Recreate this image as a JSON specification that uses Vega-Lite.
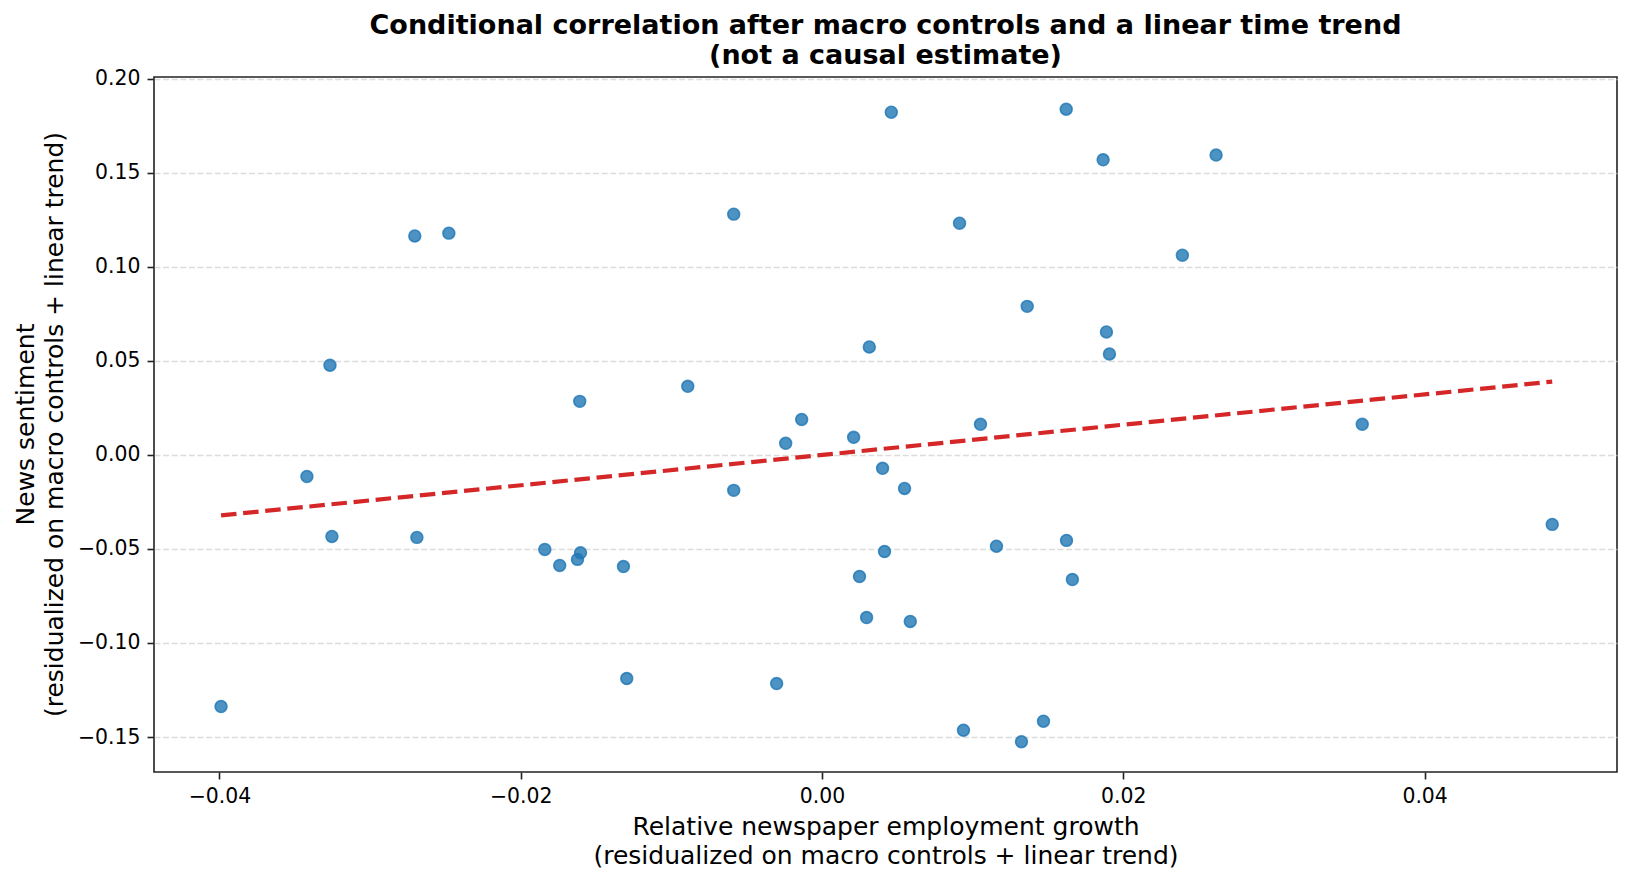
{
  "$schema": "https://vega.github.io/schema/vega-lite/v6.json",
  "width": 1463,
  "height": 695,
  "autosize": {"type": "none"},
  "padding": {"left": 154, "top": 77, "right": 16, "bottom": 110},
  "background": "white",
  "title": {
    "text": ["Conditional correlation after macro controls and a linear time trend", "(not a causal estimate)"],
    "font": "DejaVu Sans",
    "fontSize": 27,
    "fontWeight": "bold",
    "color": "black",
    "lineHeight": 29.5,
    "anchor": "middle",
    "frame": "group",
    "baseline": "top",
    "offset": -1
  },
  "datasets": {
    "points": [
      {"x": -0.03989, "y": -0.1338},
      {"x": -0.03419, "y": -0.0115},
      {"x": -0.03266, "y": 0.0476},
      {"x": -0.03253, "y": -0.0434},
      {"x": -0.02703, "y": 0.1163},
      {"x": -0.02689, "y": -0.0439},
      {"x": -0.02477, "y": 0.1178},
      {"x": -0.0184, "y": -0.0503},
      {"x": -0.01741, "y": -0.0588},
      {"x": -0.01623, "y": -0.0556},
      {"x": -0.01603, "y": -0.0521},
      {"x": -0.01608, "y": 0.0284},
      {"x": -0.01318, "y": -0.0594},
      {"x": -0.01296, "y": -0.1189},
      {"x": -0.00891, "y": 0.0364},
      {"x": -0.00586, "y": 0.1279},
      {"x": -0.00586, "y": -0.0189},
      {"x": -0.00301, "y": -0.1216},
      {"x": -0.00241, "y": 0.0061},
      {"x": -0.00135, "y": 0.0188},
      {"x": 0.0021, "y": 0.0093},
      {"x": 0.00249, "y": -0.0647},
      {"x": 0.00296, "y": -0.0865},
      {"x": 0.00314, "y": 0.0573},
      {"x": 0.00402, "y": -0.0072},
      {"x": 0.00415, "y": -0.0514},
      {"x": 0.0046, "y": 0.1821},
      {"x": 0.00548, "y": -0.0179},
      {"x": 0.00586, "y": -0.0886},
      {"x": 0.00913, "y": 0.1231},
      {"x": 0.00939, "y": -0.1464},
      {"x": 0.01052, "y": 0.0162},
      {"x": 0.01158, "y": -0.0486},
      {"x": 0.01324, "y": -0.1525},
      {"x": 0.01362, "y": 0.0789},
      {"x": 0.0147, "y": -0.1416},
      {"x": 0.01621, "y": 0.1837},
      {"x": 0.01623, "y": -0.0455},
      {"x": 0.01662, "y": -0.0663},
      {"x": 0.01866, "y": 0.1568},
      {"x": 0.01888, "y": 0.0653},
      {"x": 0.01908, "y": 0.0536},
      {"x": 0.02392, "y": 0.1061},
      {"x": 0.02616, "y": 0.1593},
      {"x": 0.03586, "y": 0.0162},
      {"x": 0.04847, "y": -0.037}
    ],
    "fit": [
      {"x": -0.03989, "y": -0.0322},
      {"x": 0.04847, "y": 0.0389}
    ]
  },
  "config": {
    "view": {"stroke": "#222222", "strokeWidth": 1.6},
    "axis": {
      "labelFont": "DejaVu Sans",
      "labelFontSize": 20.4,
      "labelColor": "black",
      "titleFont": "DejaVu Sans",
      "titleFontSize": 25,
      "titleFontWeight": "normal",
      "titleColor": "black",
      "titleLineHeight": 28.5,
      "tickColor": "#222222",
      "tickWidth": 1.6,
      "tickSize": 7,
      "domain": false
    }
  },
  "layer": [
    {
      "mark": {"type": "rule", "color": "#8c8c8c", "strokeWidth": 1.6},
      "encoding": {"x": {"datum": 0, "type": "quantitative"}}
    },
    {
      "mark": {"type": "rule", "color": "#8c8c8c", "strokeWidth": 1.6},
      "encoding": {"y": {"datum": 0, "type": "quantitative"}}
    },
    {
      "data": {"name": "points"},
      "mark": {
        "type": "circle",
        "size": 140,
        "fill": "#1f77b4",
        "fillOpacity": 0.8,
        "stroke": "#1f77b4",
        "strokeOpacity": 0.8,
        "strokeWidth": 1.6
      },
      "encoding": {
        "x": {
          "field": "x",
          "type": "quantitative",
          "scale": {"domain": [-0.04434, 0.05277], "nice": false, "zero": false},
          "axis": {
            "title": ["Relative newspaper employment growth", "(residualized on macro controls + linear trend)"],
            "values": [-0.04, -0.02, 0, 0.02, 0.04],
            "format": ".2f",
            "grid": false,
            "labelPadding": 7,
            "titleBaseline": "alphabetic",
            "titleAnchor": "middle",
            "titleY": 62.5
          }
        },
        "y": {
          "field": "y",
          "type": "quantitative",
          "scale": {"domain": [-0.1686, 0.2008], "nice": false, "zero": false},
          "axis": {
            "title": ["News sentiment", "(residualized on macro controls + linear trend)"],
            "values": [-0.15, -0.1, -0.05, 0, 0.05, 0.1, 0.15, 0.2],
            "format": ".2f",
            "grid": true,
            "gridColor": "#dcdcdc",
            "gridDash": [6, 2.6],
            "gridWidth": 1.5,
            "labelPadding": 7,
            "titleBaseline": "alphabetic",
            "titleAngle": -90,
            "titleAlign": "center",
            "titleX": -120.5,
            "titleY": 347
          }
        }
      }
    },
    {
      "data": {"name": "fit"},
      "mark": {"type": "line", "color": "#d62728", "strokeWidth": 4.2, "strokeDash": [15.5, 6.7]},
      "encoding": {
        "x": {"field": "x", "type": "quantitative"},
        "y": {"field": "y", "type": "quantitative"}
      }
    }
  ]
}
